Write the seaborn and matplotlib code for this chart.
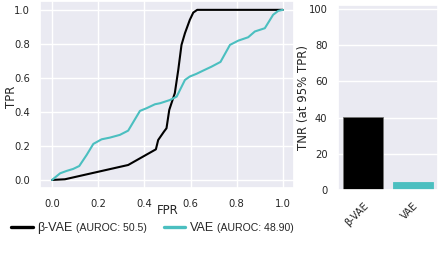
import numpy as np
import pandas as pd
import matplotlib
matplotlib.use("Agg")
import matplotlib.pyplot as plt
import seaborn as sns
from matplotlib.lines import Line2D

# ---- data ----
beta_fpr = [0.0, 0.056, 0.33, 0.45, 0.46, 0.485, 0.496, 0.508, 0.532, 0.547, 0.561, 0.576, 0.597, 0.612, 0.629, 1.0]
beta_tpr = [0.0, 0.004, 0.088, 0.18, 0.235, 0.284, 0.304, 0.412, 0.51, 0.647, 0.794, 0.863, 0.941, 0.984, 1.0, 1.0]

vae_fpr = [0.0, 0.035, 0.063, 0.092, 0.118, 0.150, 0.179, 0.215, 0.251, 0.294, 0.33, 0.381, 0.41, 0.446,
           0.468, 0.511, 0.54, 0.576, 0.597, 0.626, 0.655, 0.691, 0.73, 0.771, 0.807, 0.85, 0.879, 0.922,
           0.958, 0.98, 1.0]
vae_tpr = [0.0, 0.039, 0.053, 0.065, 0.082, 0.147, 0.212, 0.239, 0.249, 0.265, 0.29, 0.406, 0.422, 0.445,
           0.451, 0.47, 0.49, 0.588, 0.608, 0.624, 0.643, 0.666, 0.694, 0.794, 0.819, 0.839, 0.873, 0.892,
           0.971, 0.994, 1.0]

models = ["β-VAE", "VAE"]
auroc_labels = ["(AUROC: 50.5)", "(AUROC: 48.90)"]
tnr = [40.2, 4.6]
colors = ["#000000", "#4bbfc0"]

# ---- plot ----
sns.set_theme(style="darkgrid")
plt.rcParams["font.family"] = ["DejaVu Sans"]

fig = plt.figure(figsize=(4.4, 2.7), dpi=100)
ax1 = fig.add_axes([0.092, 0.302, 0.577, 0.693])
ax2 = fig.add_axes([0.768, 0.296, 0.227, 0.685])

sns.lineplot(x=beta_fpr, y=beta_tpr, ax=ax1, color=colors[0], lw=1.5, sort=False, estimator=None)
sns.lineplot(x=vae_fpr, y=vae_tpr, ax=ax1, color=colors[1], lw=1.5, sort=False, estimator=None)
ax1.set_xlabel("FPR", fontsize=8.5)
ax1.set_ylabel("TPR", fontsize=8.5)
ax1.xaxis.set_label_coords(0.5, -0.085)
ax1.yaxis.set_label_coords(-0.09, 0.49)
ax1.set_xticks([0, 0.2, 0.4, 0.6, 0.8, 1.0])
ax1.set_yticks([0, 0.2, 0.4, 0.6, 0.8, 1.0])
ax1.tick_params(labelsize=7.2, pad=1.5)

df = pd.DataFrame({"model": models, "tnr": tnr})
sns.barplot(data=df, x="model", y="tnr", hue="model", palette=colors, legend=False,
            ax=ax2, width=0.8, saturation=1, edgecolor="0.45", linewidth=0.6)
for p in ax2.patches:
    if np.allclose(p.get_facecolor()[:3], matplotlib.colors.to_rgb(colors[1])):
        p.set_edgecolor(colors[1])
ax2.set_ylim(0, 102)
ax2.set_yticks([0, 20, 40, 60, 80, 100])
ax2.set_xlabel("")
ax2.set_ylabel("TNR (at 95% TPR)", fontsize=8.5)
ax2.yaxis.set_label_coords(-0.28, 0.5)
ax2.tick_params(labelsize=7.2, pad=1.5)
for lab in ax2.get_xticklabels():
    lab.set_rotation(45)
    lab.set_ha("right")
    lab.set_rotation_mode("anchor")

handles = [Line2D([], [], color=c, lw=2.4) for c in colors]
leg = fig.legend(handles, models, loc="center left", bbox_to_anchor=(0.0, 0.156),
                 ncol=2, frameon=False, handlelength=1.7, handletextpad=0.4,
                 columnspacing=7.3, prop={"family": ["Liberation Sans", "DejaVu Sans"], "size": 9})

fig.canvas.draw()
renderer = fig.canvas.get_renderer()
inv = fig.transFigure.inverted()
for t, extra in zip(leg.get_texts(), auroc_labels):
    bb = t.get_window_extent(renderer)
    anchor = t.get_transform().transform(t.get_unitless_position())
    x, y = inv.transform((bb.x1 + 3, anchor[1]))
    fig.text(x, y, extra, fontsize=7.6, va="baseline", ha="left",
             family=["Liberation Sans", "DejaVu Sans"])

fig.savefig("out.png", dpi=100)
